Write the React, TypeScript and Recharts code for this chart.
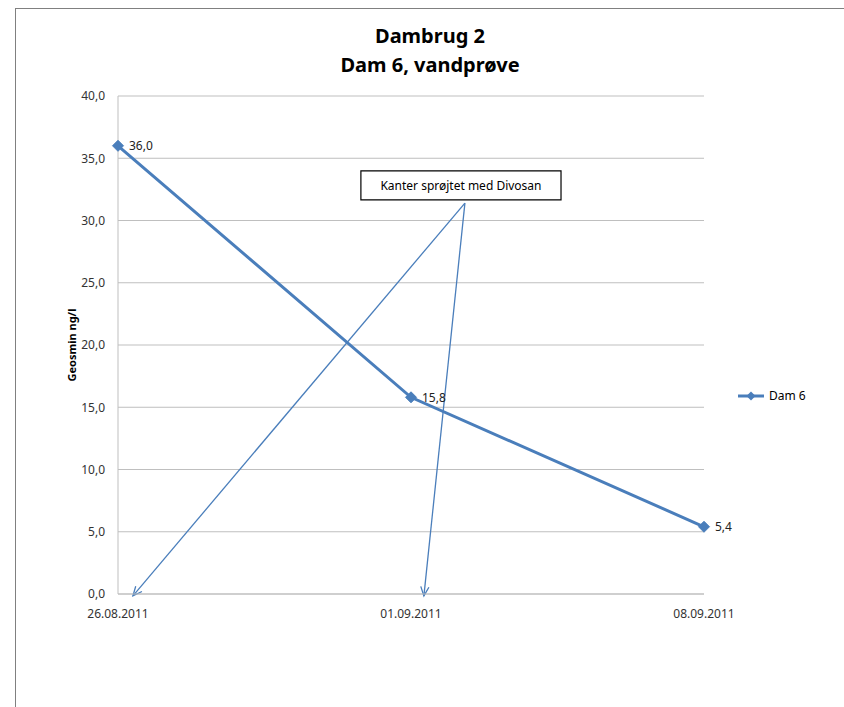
import React from "react";
import {
  CartesianGrid,
  LabelList,
  Legend,
  Line,
  LineChart,
  ReferenceArea,
  ReferenceLine,
  XAxis,
  YAxis
} from "recharts";

const dates = ["26.08.2011", "01.09.2011", "08.09.2011"];
const dam6 = [36.0, 15.8, 5.4];
const yTicks = [0, 5, 10, 15, 20, 25, 30, 35, 40];

// annotation, in data units (x = category index)
const noteText = "Kanter sprøjtet med Divosan";
const noteX = [0.829, 1.512];
const noteY = [31.65, 33.98];
const arrowFrom = { x: 1.184, y: 31.4 };
const arrowTo = [
  { x: 0.051, y: -0.15 },
  { x: 1.044, y: -0.15 }
];

const data = dates.map((d, i) => ({ idx: i, date: d, value: dam6[i] }));

const BLUE = "#4a7ebb";
const comma = (v: number) => v.toFixed(1).replace(".", ",");

const Diamond = (props: any) => {
  const { cx, cy, index } = props;
  const r = 5.5;
  return (
    <path
      key={"d" + index}
      d={`M${cx},${cy - r}L${cx + r},${cy}L${cx},${cy + r}L${cx - r},${cy}Z`}
      fill={BLUE}
      stroke={BLUE}
    />
  );
};

const Arrow = (props: any) => {
  const { x1, y1, x2, y2 } = props;
  const a = Math.atan2(y2 - y1, x2 - x1);
  const L = 10;
  const s = 0.42;
  const w1x = x2 - L * Math.cos(a - s);
  const w1y = y2 - L * Math.sin(a - s);
  const w2x = x2 - L * Math.cos(a + s);
  const w2y = y2 - L * Math.sin(a + s);
  return (
    <g>
      <line x1={x1} y1={y1} x2={x2} y2={y2} stroke={BLUE} strokeWidth={1.3} />
      <path
        d={`M${w1x},${w1y}L${x2},${y2}L${w2x},${w2y}`}
        fill="none"
        stroke={BLUE}
        strokeWidth={1.3}
      />
    </g>
  );
};

const YTitle = (props: any) => {
  const { viewBox } = props;
  const cx = viewBox.x + 13;
  const cy = viewBox.y + viewBox.height / 2;
  return (
    <text
      x={cx}
      y={cy}
      transform={`rotate(-90 ${cx} ${cy})`}
      textAnchor="middle"
      dominantBaseline="central"
      fontSize={11}
      fontWeight="bold"
      fill="#000"
    >
      Geosmin ng/l
    </text>
  );
};

const LegendBox = () => (
  <div style={{ display: "flex", alignItems: "center", fontSize: 12, color: "#000" }}>
    <svg width={28} height={12}>
      <line x1={0} y1={6} x2={26} y2={6} stroke={BLUE} strokeWidth={3} />
      <path d="M13,1.5L17.5,6L13,10.5L8.5,6Z" fill={BLUE} />
    </svg>
    <span style={{ marginLeft: 3 }}>Dam 6</span>
  </div>
);

export default function App() {
  return (
    <div
      style={{
        position: "absolute",
        left: 15,
        top: 8,
        width: 828,
        height: 698,
        overflow: "hidden",
        borderTop: "1px solid #808080",
        borderLeft: "1px solid #808080",
        fontFamily: "'Noto Sans', sans-serif"
      }}
    >
      <div
        style={{
          position: "absolute",
          top: 12,
          left: 0,
          width: 828,
          textAlign: "center",
          fontSize: 20,
          fontWeight: "bold",
          lineHeight: "29px",
          color: "#000"
        }}
      >
        <div>Dambrug 2</div>
        <div>Dam 6, vandprøve</div>
      </div>
      <LineChart
        width={828}
        height={689}
        data={data}
        margin={{ top: 87, right: 140, bottom: 74, left: 42 }}
      >
        <CartesianGrid vertical={false} stroke="#bfbfbf" />
        <XAxis
          dataKey="idx"
          type="number"
          domain={[0, 2]}
          ticks={[0, 1, 2]}
          tickFormatter={(v: number) => dates[v]}
          height={30}
          tickLine={false}
          tickMargin={9}
          stroke="#bfbfbf"
          tick={{ fill: "#333", fontSize: 12 }}
        />
        <YAxis
          domain={[0, 40]}
          ticks={yTicks}
          tickFormatter={comma}
          width={60}
          tickLine={false}
          tickMargin={7}
          stroke="#bfbfbf"
          tick={{ fill: "#333", fontSize: 12 }}
          label={{ content: YTitle }}
        />
        <Legend
          content={LegendBox}
          layout="horizontal"
          align="center"
          verticalAlign="middle"
          wrapperStyle={{ position: "absolute", left: 722, top: 378, width: 100 }}
        />
        <Line
          dataKey="value"
          name="Dam 6"
          stroke={BLUE}
          strokeWidth={3}
          dot={Diamond}
          activeDot={false}
          isAnimationActive={false}
        >
          <LabelList
            dataKey="value"
            position="right"
            offset={11}
            formatter={(v: any) => comma(Number(v))}
            fill="#222"
            fontSize={12}
          />
        </Line>
        {arrowTo.map((p, i) => (
          <ReferenceLine
            key={i}
            segment={[arrowFrom, p]}
            ifOverflow="visible"
            shape={Arrow}
          />
        ))}
        <ReferenceArea
          x1={noteX[0]}
          x2={noteX[1]}
          y1={noteY[0]}
          y2={noteY[1]}
          fill="#fff"
          fillOpacity={1}
          stroke="#000"
          strokeWidth={1.2}
          ifOverflow="visible"
          label={{ value: noteText, position: "center", fill: "#000", fontSize: 12 }}
        />
      </LineChart>
    </div>
  );
}
